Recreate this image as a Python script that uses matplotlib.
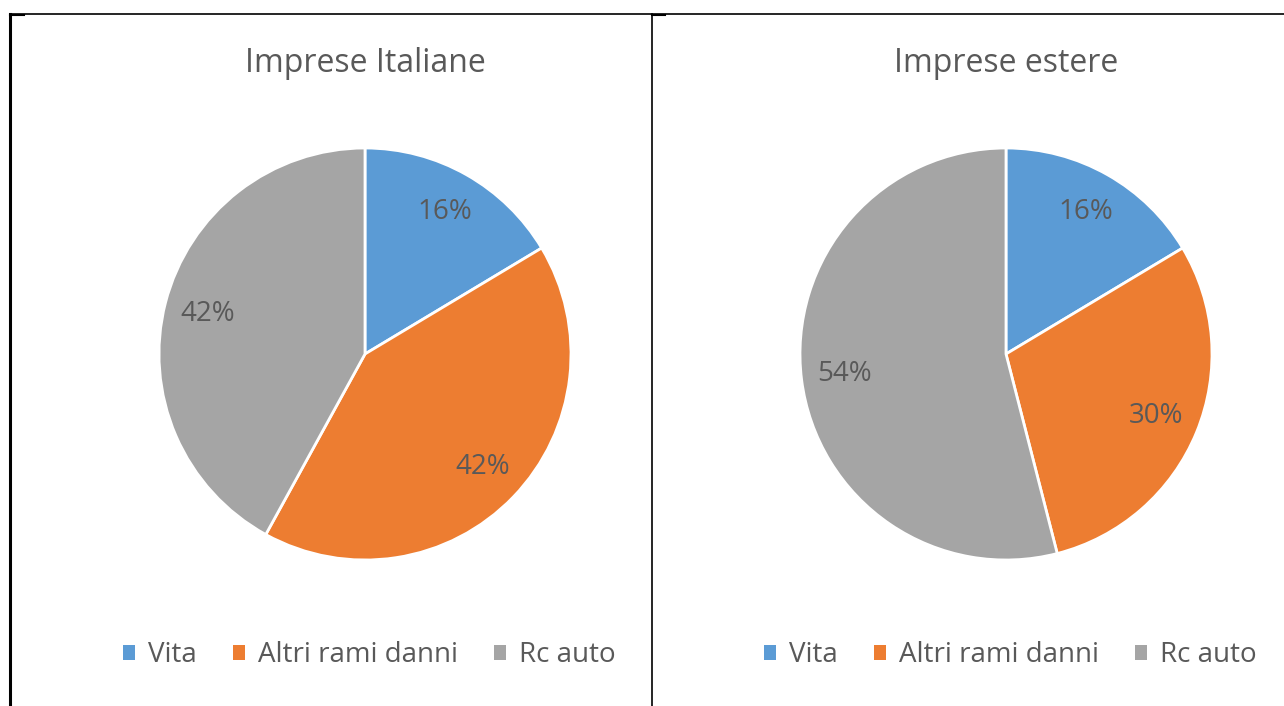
import matplotlib
matplotlib.use("Agg")
import matplotlib.pyplot as plt
from matplotlib.lines import Line2D
from matplotlib.patches import Patch

plt.rcParams['font.family'] = ['Open Sans', 'DejaVu Sans']

# data
categories = ["Vita", "Altri rami danni", "Rc auto"]
titles = ["Imprese Italiane", "Imprese estere"]
italiane = [16.4, 41.6, 42.0]
estere = [16.4, 29.6, 54.0]
colors = ["#5B9BD5", "#ED7D31", "#A5A5A5"]
text_col = "#595959"

W, H = 1284, 706
fig = plt.figure(figsize=(W / 100, H / 100), dpi=100)


def fx(px):
    return px / W


def fy(py):
    return 1 - py / H


# pies: centre (x, y) in pixels, radius 206
centres = [(365, 354), (1006, 354)]
r = 206
for (cx, cy), title, values in zip(centres, titles, [italiane, estere]):
    ax = fig.add_axes([fx(cx - r), fy(cy + r), 2 * r / W, 2 * r / H])
    ax.pie(values, colors=colors, startangle=90, counterclock=False,
           autopct=lambda p: "%d%%" % round(p), pctdistance=0.79,
           wedgeprops=dict(edgecolor="white", linewidth=2),
           textprops=dict(color=text_col, fontsize=20))
    ax.set_xlim(-1, 1)
    ax.set_ylim(-1, 1)
    ax.set_aspect("equal")
    ax.axis("off")
    fig.text(fx(cx), fy(64), title, ha="center", va="center",
             fontsize=23, color=text_col)
    handles = [Patch(facecolor=c, edgecolor="none") for c in colors]
    fig.legend(handles, categories, loc="center", bbox_to_anchor=(fx(cx + 4), fy(655)),
               ncol=3, frameon=False, fontsize=20, labelcolor=text_col,
               handlelength=0.45, handleheight=0.45, handletextpad=0.45,
               columnspacing=1.3)

# table borders
fig.add_artist(Line2D([fx(10), 1], [fy(14), fy(14)], color="black", lw=1.2))
fig.add_artist(Line2D([fx(10), fx(10)], [fy(14), 0], color="black", lw=2.2))
fig.add_artist(Line2D([fx(652), fx(652)], [fy(14), 0], color="black", lw=1.2))
fig.add_artist(Line2D([fx(10), fx(24)], [fy(15), fy(15)], color="black", lw=1.5))
fig.add_artist(Line2D([fx(652), fx(665)], [fy(15), fy(15)], color="black", lw=1.5))

fig.savefig("out.png", dpi=100)
